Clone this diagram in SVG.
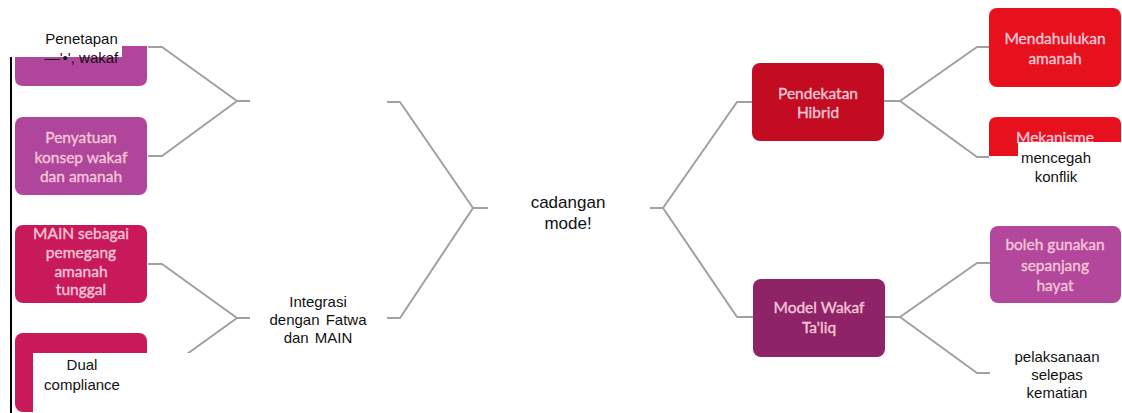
<svg xmlns="http://www.w3.org/2000/svg" width="1122" height="413" viewBox="0 0 1122 413">
<style>
.box{stroke:none}
.bt{font-family:Lato,"Open Sans","Liberation Sans",sans-serif;font-size:15.5px;fill:#f6c6d6;stroke:#f6c6d6;stroke-width:0.35;text-anchor:middle}
.ot{font-family:"Liberation Sans",Arial,sans-serif;font-size:15px;fill:#111;text-anchor:middle}
.ct{font-family:"Liberation Sans",Arial,sans-serif;font-size:17px;fill:#111;text-anchor:middle}
.mask{fill:#fff}
#connectors path{fill:none;stroke:#a0a0a0;stroke-width:2;stroke-linejoin:round}
</style>
<rect width="1122" height="413" fill="#fff"/>
<g id="connectors">
<path d="M148,47 H162 L237,101 L162,156 H148 M237,101 H250"/>
<path d="M148,264 H162 L237,318 L162,372 H148 M237,318 H250"/>
<path d="M387,102 H400 L473,208 L400,318 H387 M473,208 H488"/>
<path d="M650,208 H663 L737,102 H752 M663,208 L737,317 H753"/>
<path d="M884,101 H900 L977,47 H989 M900,101 L977,157 H989"/>
<path d="M885,317 H900 L977,263 H990 M900,317 L977,373 H990"/>
</g>
<g id="edge-line"><line x1="11" y1="57" x2="11" y2="413" stroke="#000" stroke-width="2"/></g>
<g id="node-penetapan">
<path class="box" fill="#b0469c" d="M15,46 H147 V78 Q147,86 139,86 H23 Q15,86 15,78 Z"/>
<rect class="mask" x="0" y="28" width="122" height="29"/>
<text class="ot" x="81.5" y="44">Penetapan</text>
<text class="ot" x="81.5" y="63">—'•', wakaf</text>
</g>
<g id="node-penyatuan">
<rect class="box" fill="#b0469c" x="15" y="117" width="132" height="78" rx="8"/>
<text class="bt" x="81" y="143">Penyatuan</text>
<text class="bt" x="81" y="163">konsep wakaf</text>
<text class="bt" x="81" y="182">dan amanah</text>
</g>
<g id="node-main">
<rect class="box" fill="#c8195a" x="15" y="225" width="132" height="78" rx="8"/>
<text class="bt" x="81" y="239">MAIN sebagai</text>
<text class="bt" x="81" y="258">pemegang</text>
<text class="bt" x="81" y="277">amanah</text>
<text class="bt" x="81" y="295">tunggal</text>
</g>
<g id="node-dual">
<rect class="box" fill="#c8195a" x="15" y="333" width="132" height="79" rx="8"/>
<rect class="mask" x="33" y="353" width="182" height="60"/>
<text class="ot" x="82" y="370">Dual</text>
<text class="ot" x="82" y="390">compliance</text>
</g>
<g id="node-integrasi">
<text class="ot" x="318" y="307">Integrasi</text>
<text class="ot" x="318" y="325" word-spacing="2">dengan Fatwa</text>
<text class="ot" x="318" y="343" word-spacing="2">dan MAIN</text>
</g>
<g id="node-cadangan">
<text class="ct" x="568" y="208">cadangan</text>
<text class="ct" x="568" y="229">mode!</text>
</g>
<g id="node-pendekatan">
<rect class="box" fill="#c30c22" x="752" y="63" width="132" height="78" rx="8"/>
<text class="bt" x="818" y="99">Pendekatan</text>
<text class="bt" x="818" y="118">Hibrid</text>
</g>
<g id="node-mendahulukan">
<rect class="box" fill="#e6111d" x="989" y="8" width="132" height="79" rx="8"/>
<text class="bt" x="1055" y="44">Mendahulukan</text>
<text class="bt" x="1055" y="64">amanah</text>
</g>
<g id="node-mekanisme">
<path class="box" fill="#e6111d" d="M989,156 V125 Q989,117 997,117 H1113 Q1121,117 1121,125 V156 Z"/>
<text class="bt" x="1055" y="143">Mekanisme</text>
<rect class="mask" x="1018" y="142" width="104" height="58"/>
<text class="ot" x="1056" y="163">mencegah</text>
<text class="ot" x="1056" y="182">konflik</text>
</g>
<g id="node-model">
<rect class="box" fill="#8e2367" x="753" y="279" width="132" height="78" rx="8"/>
<text class="bt" x="819" y="313">Model Wakaf</text>
<text class="bt" x="819" y="333">Ta'liq</text>
</g>
<g id="node-boleh">
<rect class="box" fill="#b3479c" x="990" y="226" width="131" height="77" rx="8"/>
<text class="bt" x="1055" y="250">boleh gunakan</text>
<text class="bt" x="1055" y="271">sepanjang</text>
<text class="bt" x="1055" y="291">hayat</text>
</g>
<g id="node-pelaksanaan">
<text class="ot" x="1057" y="362">pelaksanaan</text>
<text class="ot" x="1057" y="380">selepas</text>
<text class="ot" x="1057" y="398">kematian</text>
</g>
</svg>
